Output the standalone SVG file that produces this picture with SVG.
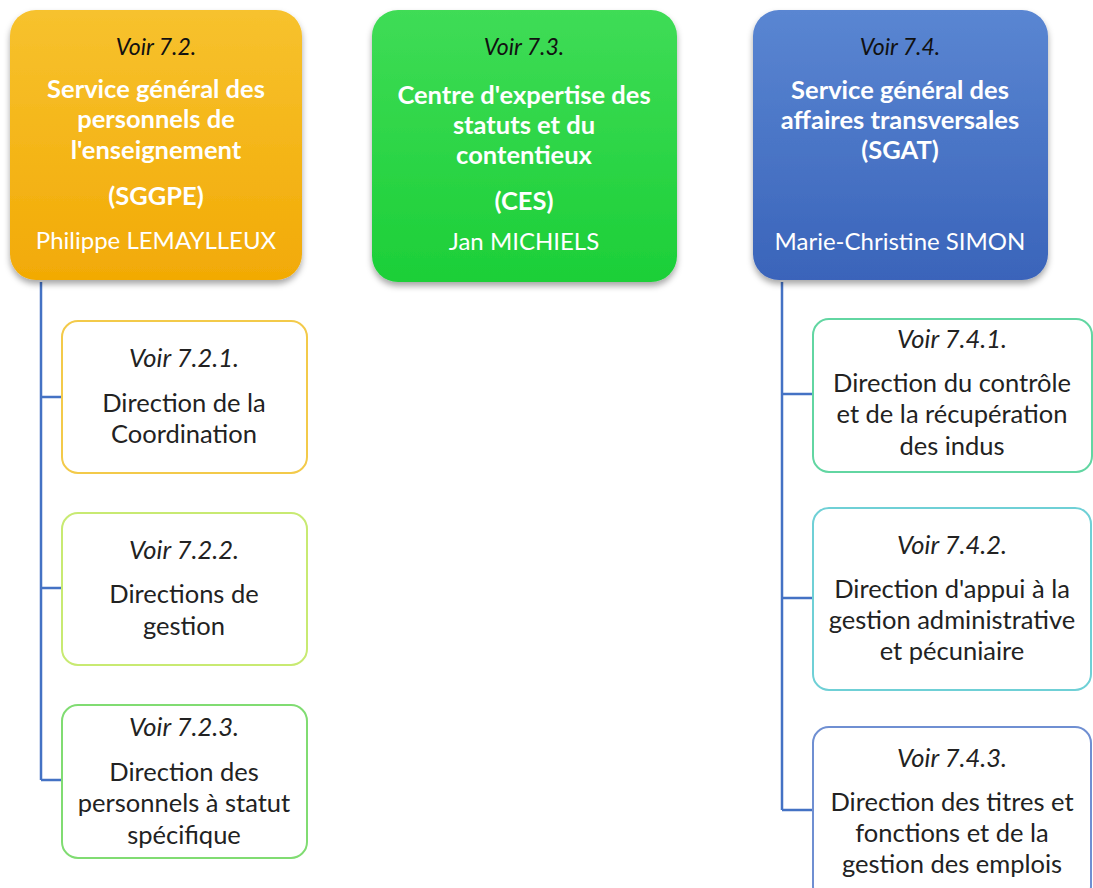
<svg xmlns="http://www.w3.org/2000/svg" width="1093" height="888" viewBox="0 0 1093 888">
<defs>
<linearGradient id="gOr" x1="0" y1="0" x2="0" y2="1"><stop offset="0" stop-color="#f7c22e"/><stop offset="1" stop-color="#f2aa05"/></linearGradient>
<linearGradient id="gGr" x1="0" y1="0" x2="0" y2="1"><stop offset="0" stop-color="#3fdc56"/><stop offset="1" stop-color="#1ccf38"/></linearGradient>
<linearGradient id="gBl" x1="0" y1="0" x2="0" y2="1"><stop offset="0" stop-color="#5a86d2"/><stop offset="1" stop-color="#3a64ba"/></linearGradient>
<filter id="sh" x="-10%" y="-10%" width="120%" height="125%"><feDropShadow dx="0" dy="4" stdDeviation="3" flood-color="#000" flood-opacity="0.35"/></filter>
</defs>
<style>
text{font-family:Lato,"Liberation Sans",sans-serif;text-anchor:middle}
.it{font-style:italic;font-size:23px;fill:#111}
.hb{font-weight:bold;font-size:25.5px;fill:#fff}
.hn{font-size:24px;fill:#fff}
.ci{font-style:italic;font-size:25.5px;fill:#222}
.ct{font-size:25.5px;fill:#222}
.child{fill:#fff;stroke-width:2}
.conn{fill:none;stroke:#4472c4;stroke-width:2.5}
</style>
<rect width="1093" height="888" fill="#fff"/>
<g id="connectors">
<path class="conn" d="M41 282 V780 M41 397 H62 M41 588 H62 M41 780 H62"/>
<path class="conn" d="M782 282 V810 M782 394 H813 M782 598 H813 M782 810 H813"/>
</g>
<g id="sggpe">
<rect x="10" y="10" width="292" height="270" rx="26" fill="url(#gOr)" filter="url(#sh)"/>
<text class="it" x="156" y="55">Voir 7.2.</text>
<text class="hb" x="156" y="98">Service général des</text>
<text class="hb" x="156" y="128">personnels de</text>
<text class="hb" x="156" y="159">l'enseignement</text>
<text class="hb" x="156" y="205">(SGGPE)</text>
<text class="hn" x="156" y="249">Philippe LEMAYLLEUX</text>
</g>
<g id="ces">
<rect x="372" y="10" width="305" height="272" rx="26" fill="url(#gGr)" filter="url(#sh)"/>
<text class="it" x="524" y="55">Voir 7.3.</text>
<text class="hb" x="524" y="104">Centre d'expertise des</text>
<text class="hb" x="524" y="134">statuts et du</text>
<text class="hb" x="524" y="164">contentieux</text>
<text class="hb" x="524" y="210">(CES)</text>
<text class="hn" x="524" y="250">Jan MICHIELS</text>
</g>
<g id="sgat">
<rect x="753" y="10" width="295" height="270" rx="26" fill="url(#gBl)" filter="url(#sh)"/>
<text class="it" x="900" y="55">Voir 7.4.</text>
<text class="hb" x="900" y="99">Service général des</text>
<text class="hb" x="900" y="129">affaires transversales</text>
<text class="hb" x="900" y="159">(SGAT)</text>
<text class="hn" x="900" y="250">Marie-Christine SIMON</text>
</g>
<g id="d721">
<rect class="child" x="62" y="321" width="245" height="152" rx="16" stroke="#f3ca4a"/>
<text class="ci" x="184" y="367">Voir 7.2.1.</text>
<text class="ct" x="184" y="412">Direction de la</text>
<text class="ct" x="184" y="443">Coordination</text>
</g>
<g id="d722">
<rect class="child" x="62" y="513" width="245" height="152" rx="16" stroke="#c8ea72"/>
<text class="ci" x="184" y="559">Voir 7.2.2.</text>
<text class="ct" x="184" y="603">Directions de</text>
<text class="ct" x="184" y="635">gestion</text>
</g>
<g id="d723">
<rect class="child" x="62" y="705" width="245" height="153" rx="16" stroke="#80dc72"/>
<text class="ci" x="184" y="736">Voir 7.2.3.</text>
<text class="ct" x="184" y="781">Direction des</text>
<text class="ct" x="184" y="812">personnels à statut</text>
<text class="ct" x="184" y="844">spécifique</text>
</g>
<g id="d741">
<rect class="child" x="813" y="319" width="279" height="153" rx="16" stroke="#62d6a2"/>
<text class="ci" x="952" y="348">Voir 7.4.1.</text>
<text class="ct" x="952" y="392">Direction du contrôle</text>
<text class="ct" x="952" y="423">et de la récupération</text>
<text class="ct" x="952" y="455">des indus</text>
</g>
<g id="d742">
<rect class="child" x="813" y="508" width="278" height="182" rx="16" stroke="#6fd0d6"/>
<text class="ci" x="952" y="554">Voir 7.4.2.</text>
<text class="ct" x="952" y="598">Direction d'appui à la</text>
<text class="ct" x="952" y="629">gestion administrative</text>
<text class="ct" x="952" y="660">et pécuniaire</text>
</g>
<g id="d743">
<rect class="child" x="813" y="727" width="278" height="175" rx="16" stroke="#6f8fd2"/>
<text class="ci" x="952" y="767">Voir 7.4.3.</text>
<text class="ct" x="952" y="811">Direction des titres et</text>
<text class="ct" x="952" y="842">fonctions et de la</text>
<text class="ct" x="952" y="873">gestion des emplois</text>
</g>
</svg>
